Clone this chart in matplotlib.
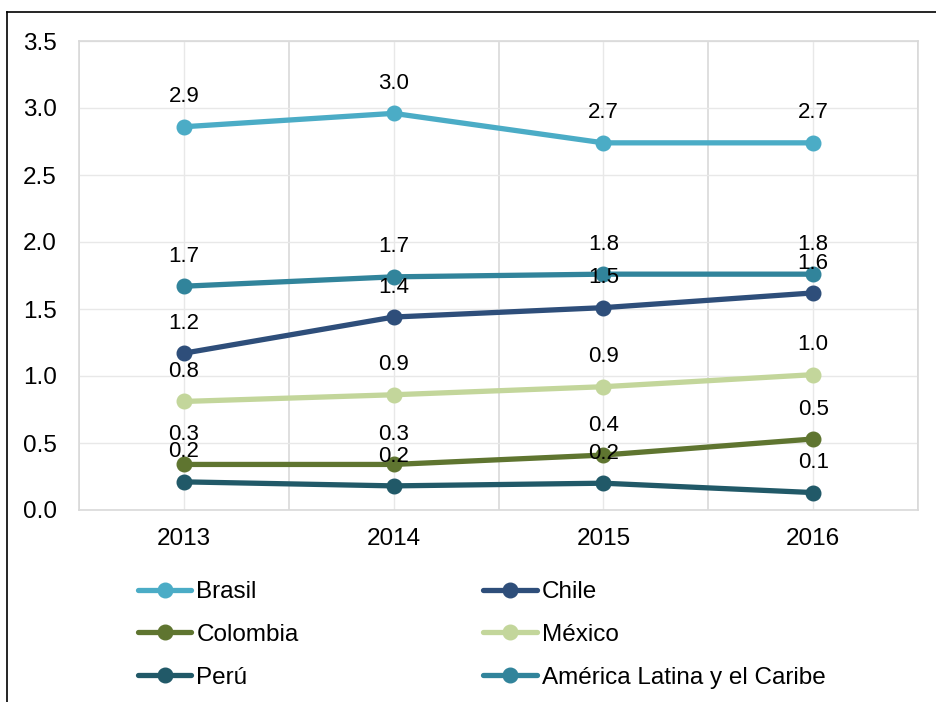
import numpy as np
import matplotlib.pyplot as plt
from matplotlib.lines import Line2D

plt.rcParams['font.family'] = ['Liberation Sans', 'DejaVu Sans']

years = ['2013', '2014', '2015', '2016']
brasil = [2.86, 2.96, 2.74, 2.74]
chile = [1.17, 1.44, 1.51, 1.62]
colombia = [0.34, 0.34, 0.41, 0.53]
mexico = [0.81, 0.86, 0.92, 1.01]
peru = [0.21, 0.18, 0.20, 0.13]
alc = [1.67, 1.74, 1.76, 1.76]

series = [
    ('Brasil', brasil, '#4bacc6'),
    ('Chile', chile, '#2e4e7a'),
    ('Colombia', colombia, '#5f7530'),
    ('México', mexico, '#c3d69b'),
    ('Perú', peru, '#215968'),
    ('América Latina y el Caribe', alc, '#31849b'),
]

fig = plt.figure(figsize=(9.36, 7.02), dpi=100)
W, H = 936, 702
ax = fig.add_axes([79 / W, 1 - 510 / H, (918 - 79) / W, (510 - 41) / H])

x = np.arange(len(years))
handles = {}
for name, vals, col in series:
    ln, = ax.plot(x, vals, color=col, linewidth=3.8, marker='o', markersize=10.5,
                  solid_capstyle='round', label=name, zorder=3)
    handles[name] = ln

# data labels on top of all lines
for name, vals, col in series:
    for xi, v in zip(x, vals):
        ax.annotate(f'{v:.1f}', (xi, v), xytext=(0, 21.5), textcoords='offset points',
                    ha='center', va='center', fontsize=16, color='black', zorder=5)

ax.set_xlim(-0.5, 3.5)
ax.set_ylim(0, 3.5)
ax.set_yticks(np.arange(0, 3.51, 0.5))
ax.set_yticklabels([f'{t:.1f}' for t in np.arange(0, 3.51, 0.5)])
ax.set_xticks(x)
ax.set_xticklabels(years)
ax.set_xticks(np.arange(-0.5, 3.6, 1), minor=True)
ax.tick_params(axis='both', which='both', length=0, labelsize=17.5)
ax.tick_params(axis='y', pad=16)
ax.tick_params(axis='x', pad=13)
ax.grid(True, which='major', color='#e8e8e8', linewidth=1, zorder=0)
ax.grid(True, which='minor', axis='x', color='#d9d9d9', linewidth=1.2, zorder=0)
for s in ax.spines.values():
    s.set_color('#d9d9d9')
    s.set_linewidth(1.2)

order = ['Brasil', 'Colombia', 'Perú', 'Chile', 'México', 'América Latina y el Caribe']
fig.legend([handles[n] for n in order], order, ncol=2, frameon=False,
           loc='upper left', bbox_to_anchor=(138 / W, 1 - 581 / H),
           fontsize=17.5, handlelength=2.2, handletextpad=0.2,
           labelspacing=0.86, columnspacing=7.6, borderpad=0, borderaxespad=0)

# outer frame of the chart box
fig.add_artist(Line2D([7 / W, 7 / W], [0, 1 - 12 / H], color='black', linewidth=1.2))
fig.add_artist(Line2D([7 / W, 1], [1 - 12 / H, 1 - 12 / H], color='black', linewidth=1.2))

fig.savefig('out.png', dpi=100)
